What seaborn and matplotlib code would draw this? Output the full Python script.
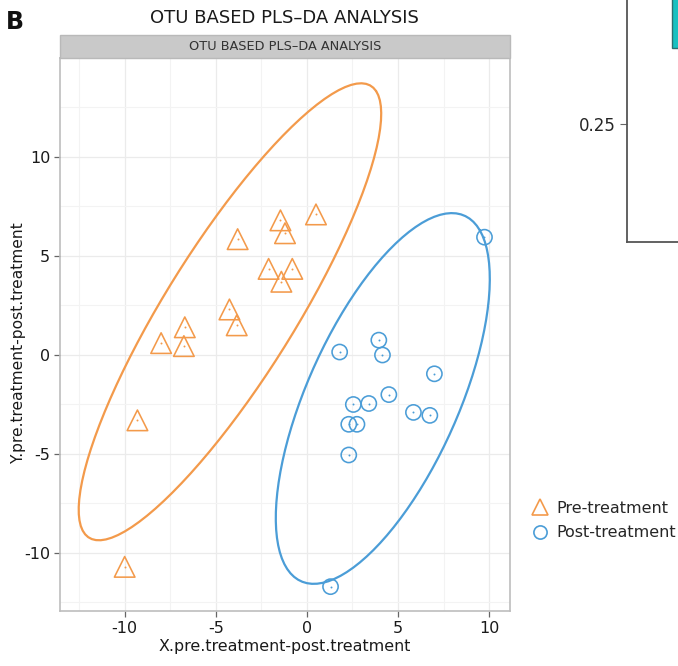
import numpy as np
import pandas as pd
import matplotlib
matplotlib.use("Agg")
import matplotlib.pyplot as plt
from matplotlib.patches import Rectangle
from matplotlib.lines import Line2D
from matplotlib.ticker import MultipleLocator
import seaborn as sns

# ---------------- data ----------------
groups = ["Pre-treatment", "Post-treatment"]
pre_x = [0.5, -1.45, -1.2, -3.8, -2.1, -0.8, -1.4, -4.25, -3.85, -6.7, -8.0, -6.75, -9.3, -10.0]
pre_y = [7.1, 6.8, 6.15, 5.85, 4.35, 4.35, 3.7, 2.3, 1.5, 1.4, 0.6, 0.45, -3.3, -10.7]
post_x = [9.75, 1.8, 3.95, 4.15, 7.0, 4.5, 2.55, 3.4, 5.85, 6.75, 2.3, 2.75, 2.3, 1.3]
post_y = [5.95, 0.15, 0.75, 0.0, -0.95, -2.0, -2.5, -2.45, -2.9, -3.05, -3.5, -3.5, -5.05, -11.7]
x_ticks = [-10, -5, 0, 5, 10]
y_ticks = [-10, -5, 0, 5, 10]
title = "OTU BASED PLS\u2013DA ANALYSIS"
xlabel = "X.pre.treatment-post.treatment"
ylabel = "Y.pre.treatment-post.treatment"
side_tick = [0.25]
side_box = [0.41, 0.60]

df = pd.DataFrame({
    "x": pre_x + post_x,
    "y": pre_y + post_y,
    "group": [groups[0]] * len(pre_x) + [groups[1]] * len(post_x),
})

colors = {"Pre-treatment": "#F39A4B", "Post-treatment": "#4B9DD7"}
markers = {"Pre-treatment": "^", "Post-treatment": "o"}
msize = {"Pre-treatment": 220, "Post-treatment": 120}


def ellipse_pts(x, y, level=0.95, npoints=100):
    """Confidence ellipse as in the R 'ellipse' package (chi-square radius)."""
    pts = np.column_stack([x, y])
    centre = pts.mean(0)
    cov = np.cov(pts.T)
    scale = np.sqrt(np.diag(cov))
    r = cov[0, 1] / (scale[0] * scale[1])
    t = np.sqrt(-2.0 * np.log(1 - level))  # sqrt(qchisq(level, 2))
    d = np.arccos(r)
    a = np.linspace(0, 2 * np.pi, npoints)
    ex = t * scale[0] * np.cos(a + d / 2) + centre[0]
    ey = t * scale[1] * np.cos(a - d / 2) + centre[1]
    return ex, ey


sns.set_theme(style="white")
plt.rcParams["font.family"] = ["DejaVu Sans"]
plt.rcParams["axes.unicode_minus"] = False

W, H = 678, 666
fig = plt.figure(figsize=(W / 100, H / 100), dpi=100)
fig.patch.set_facecolor("white")

L, R_, T, B = 60, 510, 58, 611
ax = fig.add_axes([L / W, 1 - B / H, (R_ - L) / W, (B - T) / H])
ax.set_facecolor("white")

# ellipses
for g in groups:
    sub = df[df.group == g]
    ex, ey = ellipse_pts(sub.x.values, sub.y.values)
    edf = pd.DataFrame({"x": ex, "y": ey})
    sns.lineplot(data=edf, x="x", y="y", sort=False, estimator=None, color=colors[g],
                 lw=1.6, ax=ax, legend=False, zorder=3)

# points
for g in groups:
    sub = df[df.group == g]
    sns.scatterplot(data=sub, x="x", y="y", marker=markers[g], s=msize[g],
                    facecolor="none", edgecolor=colors[g], linewidth=1.15, ax=ax,
                    legend=False, zorder=4)
    sns.scatterplot(data=sub, x="x", y="y", marker="o", s=2, color=colors[g],
                    linewidth=0, ax=ax, legend=False, zorder=5)

ax.set_xlim(-13.55, 11.15)
ax.set_ylim(-12.93, 15.0)
ax.set_xticks(x_ticks)
ax.set_yticks(y_ticks)
ax.xaxis.set_minor_locator(MultipleLocator(2.5))
ax.yaxis.set_minor_locator(MultipleLocator(2.5))
ax.grid(True, which="major", color="#EBEBEB", lw=0.9, zorder=0)
ax.grid(True, which="minor", color="#F3F3F3", lw=0.8, zorder=0)
ax.set_axisbelow(True)
ax.tick_params(axis="both", which="major", length=4, width=0.9, color="#666666",
               labelsize=11.5, labelcolor="#1a1a1a", pad=3, direction="out",
               bottom=True, left=True)
ax.tick_params(axis="both", which="minor", length=0)
for s in ax.spines.values():
    s.set_color("#BDBDBD")
    s.set_linewidth(1.2)
ax.set_xlabel(xlabel, fontsize=11.4, color="#1a1a1a", labelpad=2)
ax.set_ylabel(ylabel, fontsize=11.2, color="#1a1a1a")
ax.yaxis.set_label_coords((26 - L) / (R_ - L), (B - 343) / (B - T))

# facet strip
strip_h = 23 / (B - T)
ax.add_patch(Rectangle((0, 1), 1, strip_h, transform=ax.transAxes, clip_on=False,
                       facecolor="#C9C9C9", edgecolor="#B9B9B9", lw=1.0, zorder=5))
ax.text(0.5, 1 + strip_h / 2, title, transform=ax.transAxes, ha="center", va="center",
        fontsize=9.3, color="#333333", zorder=6)

# main title and panel label
fig.text(284 / W, 1 - 18 / H, title, ha="center", va="center", fontsize=13,
         color="#1a1a1a")
fig.text(6 / W, 1 - 22 / H, "B", ha="left", va="center", fontsize=17, fontweight="bold",
         color="#111111")

# legend
handles = [Line2D([], [], ls="", marker=markers[g], mfc="none", mec=colors[g],
                  ms=11 if g == groups[0] else 9.5, mew=1.2) for g in groups]
fig.legend(handles, groups, loc="center left", bbox_to_anchor=(532 / W, 1 - 520.5 / H),
           frameon=False, fontsize=11.5, handlelength=1.0, handletextpad=0.55,
           labelspacing=0.62, borderpad=0, borderaxespad=0)

# partial neighbouring panel at top right
ax2 = fig.add_axes([627 / W, 1 - 242 / H, 0.2, 262 / H])
ax2.set_facecolor("none")
ax2.set_ylim(0, 0.25 * 262 / (242 - 124))
ax2.set_xlim(0, 1)
ax2.bar([0.43], [side_box[1] - side_box[0]], bottom=[side_box[0]], width=0.2,
        color="#17C0C0", edgecolor="#2a6f6f", lw=1.0)
ax2.set_yticks(side_tick)
ax2.set_yticklabels(["0.25"])
ax2.set_xticks([])
ax2.tick_params(axis="y", length=5, width=0.8, color="#666666", labelsize=12, pad=3,
                left=True)
for k in ["top", "right"]:
    ax2.spines[k].set_visible(False)
for k in ["left", "bottom"]:
    ax2.spines[k].set_color("#555555")
    ax2.spines[k].set_linewidth(1.3)

fig.savefig("out.png", dpi=100)
